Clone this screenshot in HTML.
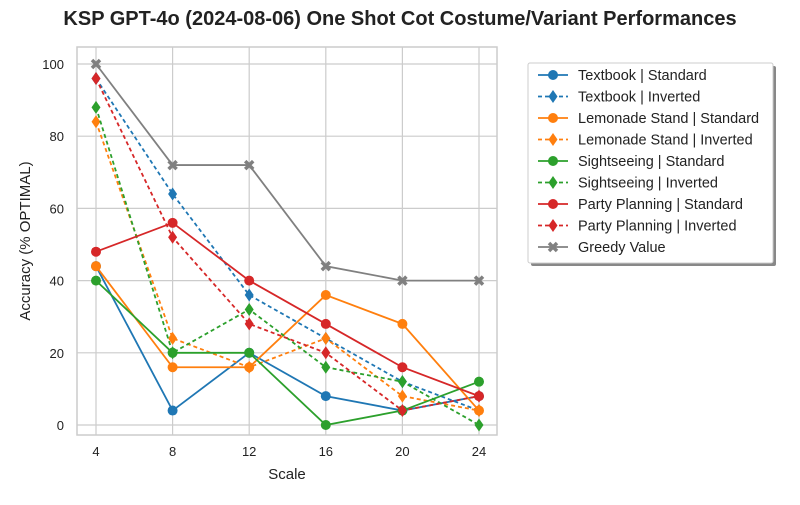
<!DOCTYPE html>
<html><head><meta charset="utf-8"><style>
body{margin:0;background:#fff;font-family:"Liberation Sans",Arial,sans-serif;}
</style></head><body>
<svg id="chart" width="800" height="500" xmlns="http://www.w3.org/2000/svg" font-family="Liberation Sans, Arial, sans-serif">
<text x="400" y="25" text-anchor="middle" font-size="20" font-weight="bold" fill="#222">KSP GPT-4o (2024-08-06) One Shot Cot Costume/Variant Performances</text>
<rect x="77" y="47" width="420" height="388" fill="#fff" stroke="#ccc" stroke-width="1.5"/>
<g id="grid"></g><g id="series"></g><g id="legend"></g>
<text x="287" y="479" text-anchor="middle" font-size="15" fill="#222">Scale</text>
<text transform="translate(30,241) rotate(-90)" text-anchor="middle" font-size="15" fill="#222">Accuracy (% OPTIMAL)</text>
</svg>
<script>
const categories=[4,8,12,16,20,24];
const xTicks=[4,8,12,16,20,24];
const yTicks=[0,20,40,60,80,100];
const names=["Textbook | Standard","Textbook | Inverted","Lemonade Stand | Standard","Lemonade Stand | Inverted","Sightseeing | Standard","Sightseeing | Inverted","Party Planning | Standard","Party Planning | Inverted","Greedy Value"];
const textbookStd=[44,4,20,8,4,8];
const textbookInv=[96,64,36,24,12,4];
const lemonadeStd=[44,16,16,36,28,4];
const lemonadeInv=[84,24,16,24,8,4];
const sightStd=[40,20,20,0,4,12];
const sightInv=[88,20,32,16,12,0];
const partyStd=[48,56,40,28,16,8];
const partyInv=[96,52,28,20,4,8];
const greedy=[100,72,72,44,40,40];
const allSeries=[textbookStd,textbookInv,lemonadeStd,lemonadeInv,sightStd,sightInv,partyStd,partyInv,greedy];
const colors=["#1f77b4","#1f77b4","#ff7f0e","#ff7f0e","#2ca02c","#2ca02c","#d62728","#d62728","#808080"];
const kinds=["o","d","o","d","o","d","o","d","x"];
const NS="http://www.w3.org/2000/svg";
const X=v=>96+(v-4)*(479-96)/20;
const Y=v=>425-v*(425-64)/100;
function mk(t,a,p){const e=document.createElementNS(NS,t);for(const k in a)e.setAttribute(k,a[k]);p.appendChild(e);return e;}
const grid=document.getElementById('grid');
xTicks.forEach(t=>{
 const l=mk('line',{x1:X(t),x2:X(t),y1:47,y2:435,stroke:'#ccc','stroke-width':1.2},grid);
 
 
 const tx=mk('text',{x:X(t),y:456,'text-anchor':'middle','font-size':13,fill:'#222'},grid);tx.textContent=t;
 
 
});
yTicks.forEach(t=>{
 const l=mk('line',{x1:77,x2:497,y1:Y(t),y2:Y(t),stroke:'#ccc','stroke-width':1.2},grid);
 
 
 const tx=mk('text',{x:64,y:Y(t)+5,'text-anchor':'end','font-size':13,fill:'#222'},grid);tx.textContent=t;
 
 
});
function marker(k,x,y,c,p){
 if(k==='o')return mk('circle',{cx:x,cy:y,r:5,fill:c},p);
 if(k==='d')return mk('polygon',{points:`${x},${y-6.5} ${x+4.5},${y} ${x},${y+6.5} ${x-4.5},${y}`,fill:c},p);
 return mk('path',{d:`M${x-4},${y-4}L${x+4},${y+4}M${x+4},${y-4}L${x-4},${y+4}`,stroke:c,'stroke-width':3.5},p);
}
const sg=document.getElementById('series');
allSeries.forEach((s,i)=>{
 const g=mk('g',{},sg);
 
 
 const pl=mk('polyline',{points:s.map((v,j)=>X(categories[j])+','+Y(v)).join(' '),fill:'none',stroke:colors[i],'stroke-width':1.8},g);
 if(kinds[i]==='d')pl.setAttribute('stroke-dasharray','4,3');
 s.forEach((v,j)=>{const m=marker(kinds[i],X(categories[j]),Y(v),colors[i],g);
  
  });
});
const lg=document.getElementById('legend');
mk('rect',{x:531,y:66,width:245,height:200,fill:'#888',rx:2},lg);
const box=mk('rect',{x:528,y:63,width:245,height:200,fill:'#fff',stroke:'#ccc',rx:2},lg);


names.forEach((n,i)=>{
 const y=75+i*21.5;
 const g=mk('g',{},lg);
 
 
 const l=mk('line',{x1:538,x2:568,y1:y,y2:y,stroke:colors[i],'stroke-width':1.8},g);
 if(kinds[i]==='d')l.setAttribute('stroke-dasharray','4,3');
 marker(kinds[i],553,y,colors[i],g);
 const t=mk('text',{x:578,y:y+5,'font-size':14.5,fill:'#222'},g);t.textContent=n;
});
</script>
</body></html>
